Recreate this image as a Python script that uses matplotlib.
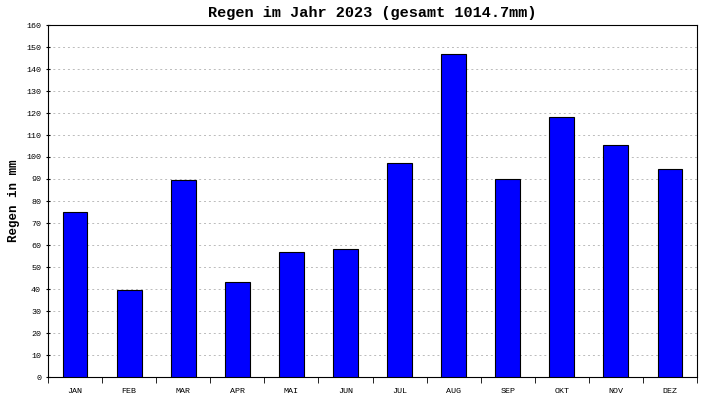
import numpy as np
import matplotlib.pyplot as plt

months = ["JAN", "FEB", "MAR", "APR", "MAI", "JUN", "JUL", "AUG", "SEP", "OKT", "NOV", "DEZ"]
rain = [75.0, 39.5, 89.5, 43.2, 56.8, 58.2, 97.3, 146.8, 90.0, 118.2, 105.5, 94.5]
yticks = list(range(0, 161, 10))

fig = plt.figure(figsize=(7.1, 4.0), dpi=100)
ax = fig.add_axes([48/710, 23/400, 649/710, 352/400])
x = np.arange(len(months))
ax.bar(x, rain, width=0.46, color="#0000ff", edgecolor="black", linewidth=0.8, zorder=3)
ax.set_xlim(-0.5, len(months) - 0.5)
ax.set_ylim(0, 160)
ax.set_yticks(yticks)
ax.set_yticklabels([str(v) for v in yticks], fontsize=6, family="Liberation Mono")
ax.set_xticks(x)
ax.set_xticklabels(months, fontsize=6, family="Liberation Mono")
ax.set_xticks(np.arange(-0.5, len(months)), minor=True)
ax.tick_params(axis="x", which="major", length=0, pad=8)
ax.tick_params(axis="x", which="minor", length=4, direction="out")
ax.tick_params(axis="y", length=3, direction="inout")
ax.grid(axis="y", linestyle=(0, (2, 3)), color="#bbbbbb", linewidth=0.7, zorder=0)
ax.set_ylabel("Regen in mm", fontsize=9, family="Liberation Mono", fontweight="bold")
ax.set_title("Regen im Jahr 2023 (gesamt 1014.7mm)", fontsize=11, family="Liberation Mono",
             fontweight="bold", pad=6)
fig.savefig("out.png", dpi=100)
